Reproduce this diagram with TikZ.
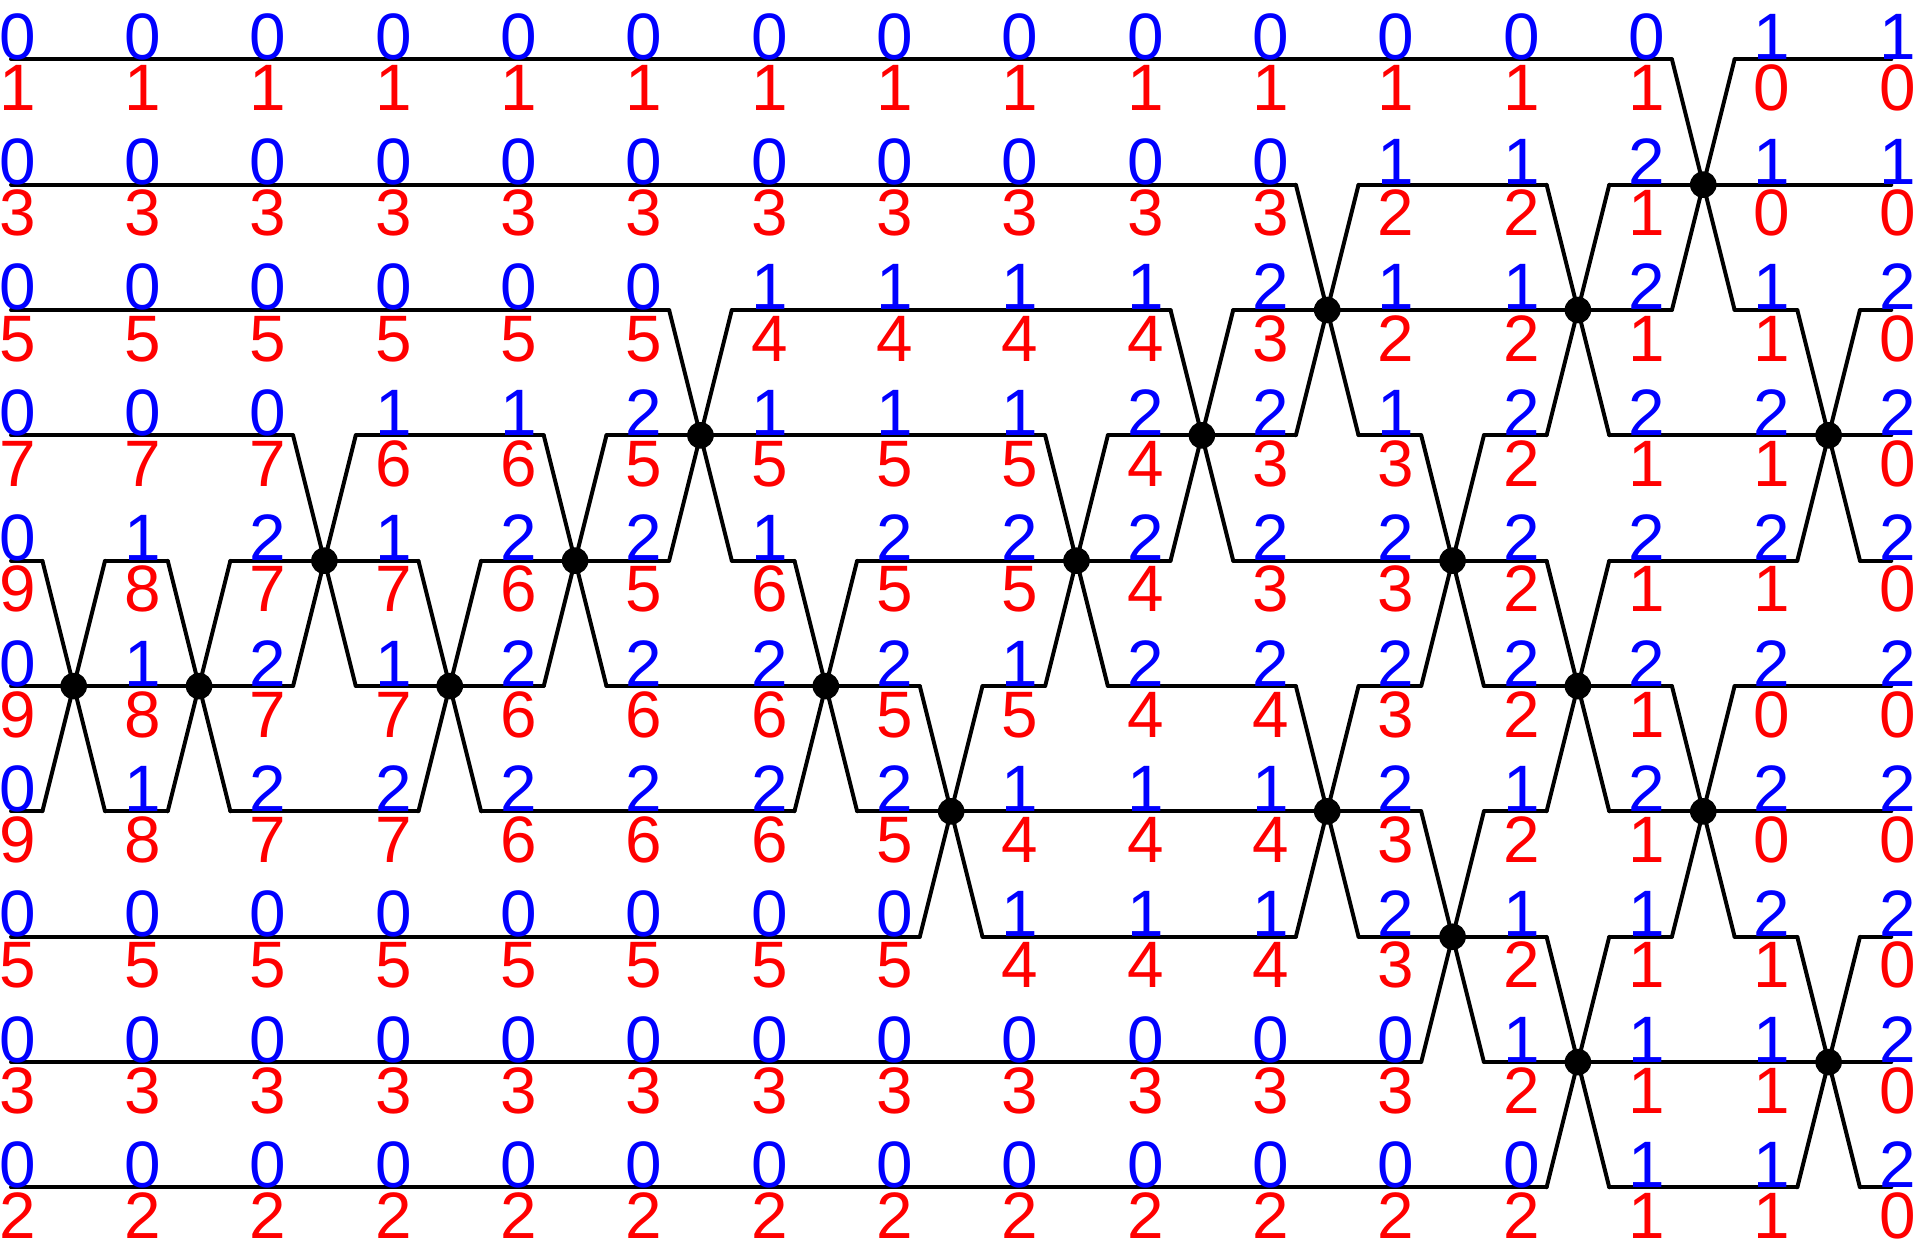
\documentclass[tikz,border=0pt]{standalone}
\usepackage{fontspec}
\setmainfont{Liberation Sans}
\usepackage{tikz}
\usetikzlibrary{calc}
\usepackage{xcolor}
\definecolor{chargeblue}{RGB}{0,0,255}
\definecolor{chargered}{RGB}{255,0,0}
\tikzset{
    strand/.style={line width=0.9pt, black, line cap=round, line join=round},
    vertex/.style={circle, fill=black, inner sep=0pt, minimum size=0.212cm},
    upper/.style={anchor=base, inner sep=0pt, text=chargeblue, font=\fontsize{14.9}{16}\selectfont},
    lower/.style={anchor=base, inner sep=0pt, text=chargered, font=\fontsize{14.9}{16}\selectfont},
}

\begin{document}
\begin{tikzpicture}
    \useasboundingbox (-0.088,0.473) rectangle (15.197,-9.427);

    % Horizontal levels
    \foreach \r/\segs in {
        0/{0/13.25, 13.75/15},
        1/{0/10.25, 10.75/12.25, 12.75/15},
        2/{0/5.25, 5.75/9.25, 9.75/13.25, 13.75/14.25, 14.75/15},
        3/{0/2.25, 2.75/4.25, 4.75/8.25, 8.75/10.25, 10.75/11.25, 11.75/12.25, 12.75/15},
        4/{0/0.25, 0.75/1.25, 1.75/3.25, 3.75/5.25, 5.75/6.25, 6.75/9.25, 9.75/12.25, 12.75/14.25, 14.75/15},
        5/{0/2.25, 2.75/4.25, 4.75/7.25, 7.75/8.25, 8.75/10.25, 10.75/11.25, 11.75/13.25, 13.75/15},
        6/{0/0.25, 0.75/1.25, 1.75/3.25, 3.75/6.25, 6.75/11.25, 11.75/12.25, 12.75/15},
        7/{0/7.25, 7.75/10.25, 10.75/12.25, 12.75/13.25, 13.75/14.25, 14.75/15},
        8/{0/11.25, 11.75/15},
        9/{0/12.25, 12.75/14.25, 14.75/15}} {
        \foreach \a/\b [count=\s] in \segs {
            \coordinate (h\r-\s-a) at (\a,-\r);
            \coordinate (h\r-\s-b) at (\b,-\r);
            \draw[strand] (h\r-\s-a) -- (h\r-\s-b);
        }
    }

    % Triple crossings
    \foreach \k/\m in {0/5, 1/5, 2/4, 3/5, 4/4, 5/3, 6/5, 7/6, 8/4, 9/3, 10/2, 10/6,
                       11/4, 11/7, 12/2, 12/5, 12/8, 13/1, 13/6, 14/3, 14/8} {
        \node[vertex] (v\k-\m) at (\k+0.5,-\m) {};
        \coordinate (nw\k-\m) at (\k+0.25,-\m+1);
        \coordinate (sw\k-\m) at (\k+0.25,-\m-1);
        \coordinate (ne\k-\m) at (\k+0.75,-\m+1);
        \coordinate (se\k-\m) at (\k+0.75,-\m-1);
        \draw[strand] (nw\k-\m) -- (v\k-\m.center) -- (se\k-\m);
        \draw[strand] (sw\k-\m) -- (v\k-\m.center) -- (ne\k-\m);
    }

    % Labels
    \foreach \r/\blu/\rd in {
        0/{0,0,0,0,0,0,0,0,0,0,0,0,0,0,1,1}/{1,1,1,1,1,1,1,1,1,1,1,1,1,1,0,0},
        1/{0,0,0,0,0,0,0,0,0,0,0,1,1,2,1,1}/{3,3,3,3,3,3,3,3,3,3,3,2,2,1,0,0},
        2/{0,0,0,0,0,0,1,1,1,1,2,1,1,2,1,2}/{5,5,5,5,5,5,4,4,4,4,3,2,2,1,1,0},
        3/{0,0,0,1,1,2,1,1,1,2,2,1,2,2,2,2}/{7,7,7,6,6,5,5,5,5,4,3,3,2,1,1,0},
        4/{0,1,2,1,2,2,1,2,2,2,2,2,2,2,2,2}/{9,8,7,7,6,5,6,5,5,4,3,3,2,1,1,0},
        5/{0,1,2,1,2,2,2,2,1,2,2,2,2,2,2,2}/{9,8,7,7,6,6,6,5,5,4,4,3,2,1,0,0},
        6/{0,1,2,2,2,2,2,2,1,1,1,2,1,2,2,2}/{9,8,7,7,6,6,6,5,4,4,4,3,2,1,0,0},
        7/{0,0,0,0,0,0,0,0,1,1,1,2,1,1,2,2}/{5,5,5,5,5,5,5,5,4,4,4,3,2,1,1,0},
        8/{0,0,0,0,0,0,0,0,0,0,0,0,1,1,1,2}/{3,3,3,3,3,3,3,3,3,3,3,3,2,1,1,0},
        9/{0,0,0,0,0,0,0,0,0,0,0,0,0,1,1,2}/{2,2,2,2,2,2,2,2,2,2,2,2,2,1,1,0}} {
        \foreach \d [count=\c from 0] in \blu {
            \node[upper] (u\r-\c) at (\c+0.05,-\r) {\d};
        }
        \foreach \d [count=\c from 0] in \rd {
            \node[lower] (l\r-\c) at (\c+0.05,-\r-0.407) {\d};
        }
    }
\end{tikzpicture}
\end{document}
